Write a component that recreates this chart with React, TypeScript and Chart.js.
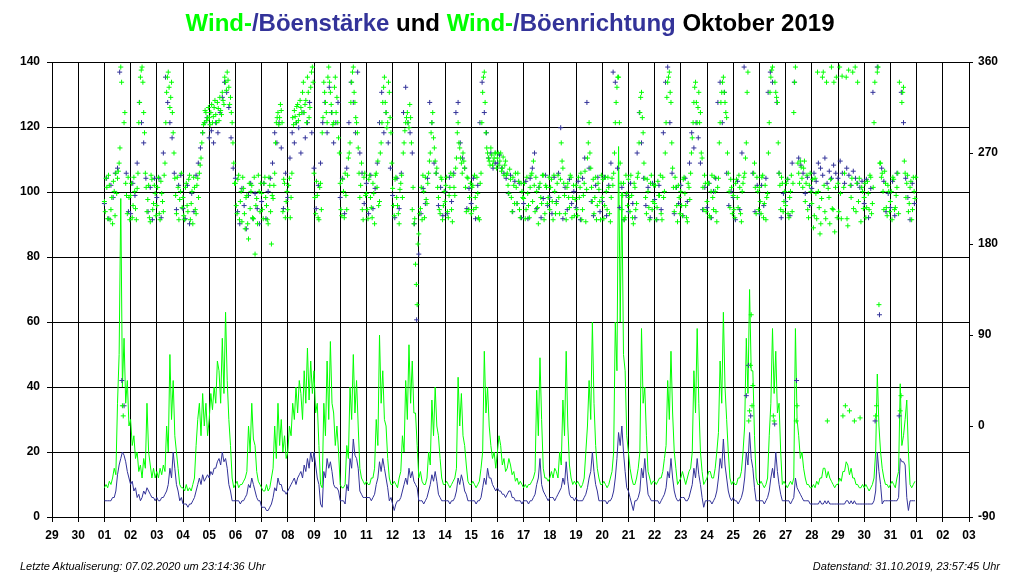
import React, { useEffect, useRef } from "react";
import { Chart, registerables } from "chart.js";

Chart.register(...registerables);

// x axis: days relative to 01 Oct 2019 00:00 (-2 = 29 Sep ... 33 = 03 Nov)
const dayLabels = [
  "29", "30", "01", "02", "03", "04", "05", "06", "07", "08", "09", "10", "11", "12", "13", "14", "15", "16",
  "17", "18", "19", "20", "21", "22", "23", "24", "25", "26", "27", "28", "29", "30", "31", "01", "02", "03",
];
const speedTicks = [0, 20, 40, 60, 80, 100, 120, 140];
const dirTicks = [-90, 0, 90, 180, 270, 360];

// wind speed (km/h), 16 values per day (every 1.5 h), 01..31 Oct
const windSpeed = [
  5, 5, 5, 5, 5, 6, 6, 8, 13, 16, 18, 20, 19, 17, 14, 12,
  10, 11, 8, 9, 6, 7, 5, 6, 8, 7, 9, 8, 7, 6, 6, 5,
  6, 5, 5, 6, 6, 7, 8, 10, 15, 12, 20, 15, 10, 8, 5, 6,
  4, 4, 4, 3, 4, 4, 5, 6, 8, 10, 12, 10, 13, 11, 12, 13,
  12, 14, 13, 15, 15, 17, 18, 16, 20, 17, 18, 15, 10, 8, 5, 5,
  5, 5, 5, 4, 5, 5, 6, 7, 10, 9, 12, 10, 8, 6, 5, 5,
  3, 3, 3, 2, 2, 3, 4, 6, 9, 8, 12, 10, 10, 8, 8, 7,
  8, 9, 10, 11, 12, 10, 12, 13, 14, 12, 16, 14, 18, 15, 20, 17,
  20, 16, 12, 10, 4, 3, 14, 12, 18, 15, 17, 14, 10, 9, 9, 8,
  5, 5, 5, 4, 10, 8, 18, 15, 24, 19, 18, 15, 8, 7, 6, 6,
  6, 6, 6, 5, 6, 7, 10, 12, 17, 14, 18, 15, 12, 9, 5, 6,
  4, 2, 4, 5, 5, 6, 8, 10, 12, 10, 15, 12, 14, 11, 10, 9,
  5, 5, 5, 4, 5, 6, 8, 10, 13, 11, 14, 11, 7, 6, 5, 5,
  5, 5, 5, 4, 5, 5, 6, 8, 12, 10, 13, 11, 8, 7, 5, 5,
  5, 5, 5, 4, 5, 5, 6, 9, 12, 10, 15, 12, 12, 10, 9, 8,
  9, 8, 8, 7, 7, 6, 7, 8, 8, 6, 6, 5, 5, 5, 5, 4,
  5, 5, 5, 4, 5, 5, 6, 7, 10, 12, 18, 10, 8, 7, 6, 5,
  6, 6, 6, 5, 6, 7, 8, 9, 12, 10, 17, 11, 7, 6, 6, 5,
  6, 5, 5, 5, 5, 6, 7, 9, 12, 14, 20, 14, 10, 8, 5, 5,
  5, 5, 5, 4, 5, 5, 6, 8, 12, 18, 26, 22, 28, 20, 14, 9,
  8, 6, 4, 2, 5, 5, 6, 8, 15, 12, 18, 12, 7, 6, 5, 5,
  5, 5, 5, 4, 5, 6, 7, 9, 14, 12, 18, 12, 8, 6, 5, 5,
  6, 6, 6, 5, 5, 6, 8, 10, 15, 12, 18, 13, 10, 6, 3, 5,
  5, 5, 5, 4, 5, 6, 8, 12, 18, 15, 24, 16, 12, 8, 6, 5,
  6, 5, 5, 4, 5, 6, 8, 12, 20, 16, 26, 18, 15, 9, 5, 5,
  5, 5, 5, 4, 5, 6, 8, 12, 15, 12, 20, 14, 10, 7, 5, 5,
  5, 5, 5, 4, 5, 6, 12, 9, 8, 7, 6, 5, 5, 5, 5, 4,
  4, 4, 4, 4, 4, 5, 4, 4, 5, 4, 5, 4, 4, 4, 4, 4,
  4, 4, 4, 4, 4, 5, 5, 4, 5, 4, 5, 4, 4, 4, 4, 4,
  4, 4, 4, 4, 4, 4, 5, 8, 20, 14, 10, 4, 5, 5, 5, 5,
  5, 5, 5, 5, 5, 6, 18, 17, 17, 16, 6, 2, 5, 5, 5, 5,
];

// gust speed (km/h), 16 values per day
const gustSpeed = [
  9, 10, 9, 11, 10, 12, 15, 13, 35, 50, 98, 40, 55, 35, 42, 28,
  30, 22, 25, 18, 20, 14, 16, 12, 18, 15, 35, 20, 16, 12, 15, 12,
  14, 12, 15, 13, 16, 14, 28, 20, 50, 30, 42, 25, 20, 15, 10, 9,
  9, 8, 10, 8, 9, 8, 10, 12, 22, 30, 35, 25, 38, 28, 35, 25,
  30, 38, 33, 40, 35, 48, 45, 35, 55, 38, 63, 42, 30, 22, 12, 9,
  10, 11, 9, 10, 10, 11, 12, 14, 28, 20, 35, 24, 22, 14, 11, 10,
  9, 8, 8, 10, 8, 9, 12, 15, 28, 18, 35, 22, 30, 20, 25, 18,
  20, 28, 25, 35, 30, 40, 32, 42, 38, 30, 45, 35, 52, 36, 48, 38,
  45, 32, 35, 22, 10, 9, 35, 25, 48, 30, 54, 35, 32, 22, 28, 20,
  10, 9, 9, 10, 22, 18, 40, 30, 50, 32, 42, 28, 15, 12, 11, 10,
  11, 10, 10, 12, 12, 15, 30, 22, 56, 35, 45, 30, 28, 18, 12, 10,
  10, 11, 10, 9, 12, 14, 25, 20, 42, 30, 53, 35, 48, 32, 32, 22,
  12, 14, 11, 10, 10, 12, 20, 16, 36, 25, 40, 28, 25, 18, 12, 10,
  10, 11, 10, 9, 10, 11, 12, 15, 43, 28, 38, 25, 22, 16, 11, 10,
  10, 11, 10, 9, 10, 11, 15, 20, 51, 32, 40, 28, 22, 18, 20, 15,
  20, 25, 22, 16, 18, 14, 15, 18, 16, 13, 14, 11, 12, 10, 11, 10,
  9, 10, 9, 10, 10, 11, 12, 14, 39, 25, 49, 30, 15, 12, 12, 11,
  12, 14, 12, 15, 14, 12, 20, 16, 36, 25, 51, 28, 16, 12, 10, 11,
  10, 11, 10, 9, 10, 12, 20, 28, 42, 30, 60, 35, 22, 15, 12, 10,
  10, 11, 10, 9, 10, 12, 14, 20, 60, 45, 114, 60, 100, 50, 45, 25,
  20, 15, 12, 10, 10, 12, 15, 20, 58, 35, 40, 25, 14, 12, 10, 11,
  11, 10, 11, 12, 12, 14, 18, 22, 42, 30, 51, 32, 20, 15, 10, 11,
  12, 14, 12, 10, 12, 14, 15, 20, 45, 32, 58, 35, 20, 14, 10, 11,
  12, 14, 14, 12, 12, 15, 20, 26, 48, 35, 63, 40, 30, 20, 12, 10,
  11, 10, 10, 12, 12, 14, 20, 28, 55, 38, 70, 45, 45, 25, 12, 10,
  10, 11, 10, 9, 10, 12, 25, 35, 58, 38, 51, 32, 35, 20, 10, 11,
  10, 9, 10, 11, 10, 12, 58, 30, 25, 18, 20, 15, 12, 10, 10, 9,
  9, 10, 9, 11, 10, 12, 12, 15, 15, 12, 14, 12, 11, 10, 9, 10,
  10, 12, 11, 14, 14, 17, 16, 13, 15, 12, 12, 10, 10, 9, 9, 10,
  9, 10, 9, 8, 9, 10, 12, 20, 44, 28, 20, 15, 12, 10, 10, 9,
  10, 11, 10, 9, 12, 14, 41, 22, 25, 30, 36, 20, 10, 9, 10, 11,
];

// wind direction (degrees), 16 values per day (every 1.5 h from 00:00)
const windDir = [
  222, 245, 205, 238, 214, 200, 232, 250, 245, 260, 355, 20, 300, 240, 210, 226,
  228, 206, 246, 215, 235, 300, 345, 355, 310, 250, 212, 238, 202, 244, 220, 230,
  218, 246, 204, 230, 212, 260, 330, 350, 315, 340, 290, 245, 210, 236, 224, 250,
  226, 204, 240, 212, 248, 220, 200, 236, 210, 245, 250, 265, 290, 300, 310, 305,
  305, 310, 300, 315, 308, 320, 302, 312, 330, 318, 340, 350, 335, 325, 300, 260,
  240, 210, 248, 222, 202, 235, 195, 228, 185, 215, 238, 205, 170, 225, 248, 212,
  230, 205, 246, 218, 200, 238, 180, 225, 250, 300, 310, 305, 312, 212, 240, 222,
  214, 245, 226, 305, 312, 300, 318, 308, 315, 330, 310, 322, 345, 305, 335, 355,
  250, 210, 228, 204, 240, 290, 340, 320, 300, 355, 330, 310, 300, 345, 325, 285,
  240, 208, 232, 250, 214, 265, 280, 340, 355, 320, 300, 275, 226, 260, 204, 250,
  230, 205, 248, 216, 240, 200, 250, 262, 222, 280, 320, 345, 310, 300, 330, 290,
  235, 208, 246, 218, 200, 240, 226, 280, 300, 310, 295, 305, 214, 200, 160, 120,
  190, 215, 204, 232, 246, 220, 250, 270, 300, 285, 262, 255, 226, 210, 244, 218,
  222, 246, 206, 236, 214, 248, 228, 265, 300, 275, 260, 270, 255, 212, 245, 226,
  210, 238, 248, 216, 230, 204, 250, 330, 350, 290, 270, 262, 275, 258, 265, 270,
  265, 258, 270, 255, 248, 262, 250, 230, 244, 212, 238, 250, 220, 242, 206, 232,
  225, 205, 246, 218, 236, 250, 262, 212, 232, 200, 240, 220, 248, 210, 236, 226,
  214, 244, 204, 232, 220, 248, 210, 280, 255, 228, 204, 240, 216, 246, 226, 208,
  238, 208, 226, 250, 214, 240, 202, 265, 300, 255, 222, 210, 246, 218, 234, 204,
  226, 205, 246, 214, 236, 202, 245, 250, 300, 335, 345, 260, 214, 240, 206, 230,
  244, 212, 228, 200, 236, 220, 250, 310, 330, 290, 245, 210, 232, 204, 248, 222,
  220, 204, 242, 228, 210, 246, 232, 300, 340, 350, 320, 255, 212, 236, 202, 226,
  232, 208, 246, 218, 202, 236, 250, 285, 320, 340, 300, 330, 310, 265, 214, 240,
  222, 240, 206, 248, 214, 232, 202, 245, 300, 330, 345, 320, 305, 250, 216, 236,
  228, 206, 244, 216, 236, 202, 240, 250, 280, 350, 15, 110, 40, 260, 210, 232,
  236, 210, 248, 220, 204, 230, 300, 345, 355, 5, 330, 320, 250, 214, 240, 222,
  218, 244, 206, 232, 212, 310, 355, 20, 250, 262, 245, 255, 222, 248, 206, 250,
  220, 196, 245, 205, 232, 190, 225, 350, 212, 340, 235, 200, 355, 214, 192, 345,
  240, 355, 205, 10, 250, 345, 198, 15, 226, 350, 5, 212, 340, 245, 202, 232,
  226, 206, 242, 214, 246, 220, 300, 10, 350, 120, 260, 250, 214, 240, 208, 232,
  222, 204, 244, 216, 236, 210, 15, 320, 335, 250, 240, 212, 236, 204, 246, 225,
];

// wind direction (degrees), 16 values per day (every 1.5 h from 00:45)
const windDirHalf = [
  212, 236, 248, 204, 226, 242, 208, 230, 252, 275, 340, 10, 310, 228, 246, 204,
  240, 218, 232, 204, 250, 320, 352, 340, 290, 236, 224, 206, 248, 214, 238, 208,
  236, 210, 242, 222, 248, 300, 345, 335, 325, 310, 270, 228, 246, 204, 232, 216,
  208, 236, 218, 244, 204, 232, 246, 214, 238, 226, 258, 280, 298, 312, 302, 315,
  298, 318, 306, 322, 300, 314, 325, 308, 322, 345, 332, 342, 318, 310, 280, 240,
  218, 244, 204, 232, 246, 210, 226, 200, 240, 232, 206, 246, 218, 200, 232, 240,
  214, 240, 226, 204, 246, 212, 228, 238, 280, 305, 298, 318, 300, 244, 206, 232,
  238, 206, 250, 298, 306, 316, 302, 322, 310, 340, 318, 300, 330, 315, 350, 340,
  226, 242, 206, 236, 214, 305, 330, 310, 345, 340, 318, 298, 335, 310, 300, 270,
  214, 244, 206, 228, 248, 270, 320, 350, 330, 305, 290, 250, 238, 214, 246, 228,
  214, 244, 226, 206, 230, 248, 236, 218, 270, 300, 335, 320, 295, 340, 305, 260,
  218, 244, 226, 210, 234, 248, 270, 292, 305, 300, 318, 280, 236, 205, 140, 180,
  210, 236, 248, 206, 224, 240, 262, 290, 310, 275, 250, 236, 214, 246, 204, 232,
  238, 212, 228, 250, 202, 236, 255, 290, 280, 265, 250, 262, 236, 246, 214, 240,
  236, 214, 226, 246, 206, 240, 300, 345, 320, 275, 265, 258, 268, 262, 270, 255,
  270, 262, 252, 266, 258, 248, 238, 254, 226, 246, 220, 236, 250, 214, 240, 226,
  240, 214, 230, 206, 248, 222, 238, 246, 216, 236, 226, 248, 204, 238, 220, 246,
  236, 222, 248, 210, 240, 226, 244, 262, 240, 210, 236, 226, 248, 206, 238, 224,
  214, 246, 236, 204, 228, 252, 234, 280, 270, 236, 244, 226, 204, 240, 222, 248,
  244, 218, 232, 246, 210, 226, 238, 270, 320, 345, 300, 240, 228, 204, 248, 218,
  226, 248, 206, 240, 214, 246, 280, 325, 305, 260, 226, 244, 216, 240, 214, 238,
  238, 216, 228, 248, 204, 226, 270, 325, 345, 330, 280, 236, 246, 218, 238, 210,
  218, 244, 230, 206, 240, 224, 270, 300, 335, 320, 315, 300, 270, 236, 248, 212,
  240, 208, 232, 226, 246, 212, 236, 280, 320, 340, 330, 310, 270, 232, 244, 210,
  214, 240, 226, 248, 210, 232, 246, 265, 330, 5, 60, 20, 250, 236, 246, 214,
  222, 246, 206, 238, 226, 270, 330, 352, 10, 340, 325, 280, 238, 246, 212, 232,
  240, 210, 226, 248, 240, 340, 5, 260, 240, 256, 236, 262, 240, 214, 238, 232,
  244, 208, 230, 350, 216, 200, 345, 238, 205, 5, 226, 244, 215, 340, 236, 206,
  212, 230, 346, 236, 20, 205, 352, 238, 245, 215, 355, 240, 222, 8, 236, 215,
  240, 216, 230, 248, 210, 236, 340, 20, 355, 260, 246, 232, 252, 216, 238, 212,
  232, 246, 214, 228, 250, 340, 30, 330, 262, 226, 248, 220, 242, 214, 232, 246,
];

// gust direction (degrees), 12 values per day (every 2 h)
const gustDir = [
  220, 245, 205, 238, 226, 250, 255, 350, 45, 20, 250, 212,
  210, 240, 228, 260, 320, 300, 280, 245, 212, 236, 204, 245,
  226, 245, 206, 270, 345, 320, 300, 285, 250, 214, 238, 248,
  215, 205, 238, 200, 230, 212, 248, 260, 275, 290, 300, 305,
  285, 292, 280, 300, 290, 310, 325, 340, 330, 315, 285, 255,
  245, 212, 200, 235, 218, 195, 228, 240, 205, 230, 215, 200,
  222, 240, 205, 232, 245, 260, 290, 280, 300, 275, 215, 250,
  226, 265, 290, 280, 300, 295, 270, 310, 285, 300, 320, 290,
  255, 215, 238, 260, 300, 320, 290, 335, 310, 280, 300, 320,
  226, 245, 210, 255, 300, 340, 320, 290, 350, 270, 250, 220,
  240, 210, 248, 215, 235, 260, 300, 330, 290, 310, 280, 255,
  228, 206, 245, 215, 250, 310, 335, 300, 290, 270, 200, 105,
  170, 210, 235, 220, 245, 320, 300, 260, 250, 218, 236, 208,
  232, 210, 246, 222, 250, 310, 320, 280, 265, 255, 215, 235,
  220, 245, 205, 238, 300, 340, 310, 290, 265, 270, 255, 260,
  260, 268, 255, 250, 245, 230, 248, 212, 242, 220, 240, 206,
  220, 242, 205, 245, 255, 270, 215, 236, 206, 225, 248, 218,
  226, 210, 246, 222, 250, 295, 205, 236, 214, 244, 220, 232,
  216, 242, 204, 245, 265, 320, 255, 222, 208, 238, 246, 212,
  222, 246, 208, 238, 260, 350, 340, 255, 216, 236, 204, 228,
  212, 240, 220, 206, 270, 310, 280, 245, 218, 236, 206, 240,
  224, 204, 238, 214, 290, 340, 355, 300, 250, 210, 236, 220,
  238, 208, 245, 222, 260, 290, 275, 300, 285, 260, 214, 236,
  216, 240, 206, 232, 245, 320, 340, 300, 330, 250, 218, 232,
  226, 204, 242, 214, 270, 355, 30, 60, 10, 250, 212, 238,
  210, 238, 218, 245, 330, 350, 340, 2, 320, 250, 206, 230,
  222, 244, 208, 260, 340, 45, 265, 258, 250, 230, 246, 218,
  235, 250, 242, 260, 255, 248, 265, 240, 252, 245, 258, 250,
  245, 262, 250, 240, 255, 248, 238, 252, 245, 240, 236, 242,
  220, 244, 206, 235, 330, 5, 355, 110, 255, 242, 212, 230,
  216, 242, 208, 250, 10, 330, 300, 245, 226, 204, 240, 220,
];

const SPEED_PER_DAY = 16;
const WIND_DIR_PER_DAY = 16;
const WIND_DIR_HALF_OFFSET = 0.75 / 24;
const GUST_DIR_PER_DAY = 12;

const GREEN = "#00ff00";
const BLUE = "#333399";
const FONT = '"Liberation Sans", Arial, sans-serif';

const toPoints = (values: number[], perDay: number, offset = 0) =>
  values.map((v, i) => ({ x: i / perDay + offset, y: v }));

const dirDataset = (label: string, data: { x: number; y: number }[], color: string, order: number) => ({
  label,
  type: "scatter",
  data,
  yAxisID: "y1",
  pointStyle: "cross",
  pointRadius: 2.5,
  borderColor: color,
  backgroundColor: color,
  borderWidth: 1,
  showLine: false,
  order,
});

export default function App() {
  const canvasRef = useRef<HTMLCanvasElement | null>(null);

  useEffect(() => {
    const canvas = canvasRef.current;
    if (!canvas) return;
    const tickFont = { family: FONT, size: 12, weight: "bold" as const };
    const chart = new Chart(canvas, {
      type: "line",
      data: {
        datasets: [
          dirDataset("Windrichtung", toPoints(windDir, WIND_DIR_PER_DAY), GREEN, 0),
          dirDataset("Windrichtung ", toPoints(windDirHalf, WIND_DIR_PER_DAY, WIND_DIR_HALF_OFFSET), GREEN, 0),
          dirDataset("Böenrichtung", toPoints(gustDir, GUST_DIR_PER_DAY), BLUE, 1),
          {
            label: "Böenstärke",
            data: toPoints(gustSpeed, SPEED_PER_DAY),
            yAxisID: "y",
            borderColor: GREEN,
            borderWidth: 1,
            pointRadius: 0,
            tension: 0,
            fill: false,
            order: 2,
          },
          {
            label: "Windstärke",
            data: toPoints(windSpeed, SPEED_PER_DAY),
            yAxisID: "y",
            borderColor: BLUE,
            borderWidth: 1,
            pointRadius: 0,
            tension: 0,
            fill: false,
            order: 3,
          },
        ],
      },
      options: {
        responsive: false,
        animation: false,
        layout: { padding: { top: 62, left: 0, right: 0, bottom: 0 } },
        plugins: { legend: { display: false }, tooltip: { enabled: false }, title: { display: false } },
        scales: {
          x: {
            type: "linear",
            min: -2,
            max: 33,
            afterBuildTicks: (scale: any) => {
              scale.ticks = dayLabels.map((_, i) => ({ value: i - 2 }));
            },
            afterFit: (scale: any) => {
              scale.height = 62;
            },
            ticks: {
              autoSkip: false,
              maxRotation: 0,
              minRotation: 0,
              padding: 6,
              color: "#000",
              font: tickFont,
              callback: (v: any) => dayLabels[Math.round(Number(v)) + 2] ?? "",
            },
            grid: { color: "#000", lineWidth: 1, tickLength: 5, tickColor: "#000", drawTicks: true },
            border: { color: "#000", width: 1 },
          },
          y: {
            type: "linear",
            position: "left",
            min: 0,
            max: 140,
            afterBuildTicks: (scale: any) => {
              scale.ticks = speedTicks.map((v) => ({ value: v }));
            },
            afterFit: (scale: any) => {
              scale.width = 52;
            },
            ticks: { padding: 7, color: "#000", font: tickFont },
            grid: { color: "#000", lineWidth: 1, tickLength: 5, tickColor: "#000" },
            border: { color: "#000", width: 1 },
          },
          y1: {
            type: "linear",
            position: "right",
            min: -90,
            max: 360,
            afterBuildTicks: (scale: any) => {
              scale.ticks = dirTicks.map((v) => ({ value: v }));
            },
            afterFit: (scale: any) => {
              scale.width = 51;
            },
            ticks: { padding: 5, color: "#000", font: tickFont },
            grid: { drawOnChartArea: false, color: "#000", tickLength: 4, tickColor: "#000" },
            border: { color: "#000", width: 1 },
          },
        },
      },
    } as any);
    return () => chart.destroy();
  }, []);

  return (
    <div style={{ position: "absolute", left: 0, top: 0, width: 1020, height: 579, background: "#fff", overflow: "hidden" }}>
      <canvas ref={canvasRef} width={1020} height={579} style={{ position: "absolute", left: 0, top: 0 }} />
      <div
        style={{
          position: "absolute",
          left: 0,
          top: 9,
          width: 1020,
          textAlign: "center",
          font: `bold 24px ${FONT}`,
          color: "#000",
          whiteSpace: "pre",
        }}
      >
        <span style={{ color: GREEN }}>Wind-</span>
        <span style={{ color: BLUE }}>/Böenstärke</span>
        <span> und </span>
        <span style={{ color: GREEN }}>Wind-</span>
        <span style={{ color: BLUE }}>/Böenrichtung</span>
        <span> Oktober 2019</span>
      </div>
      <div style={{ position: "absolute", left: 20, top: 560, font: `italic 11px ${FONT}`, color: "#000", whiteSpace: "pre" }}>
        Letzte Aktualiserung: 07.02.2020 um 23:14:36 Uhr
      </div>
      <div style={{ position: "absolute", right: 20, top: 560, font: `italic 11px ${FONT}`, color: "#000", whiteSpace: "pre" }}>
        Datenstand: 31.10.2019, 23:57:45 Uhr
      </div>
    </div>
  );
}
